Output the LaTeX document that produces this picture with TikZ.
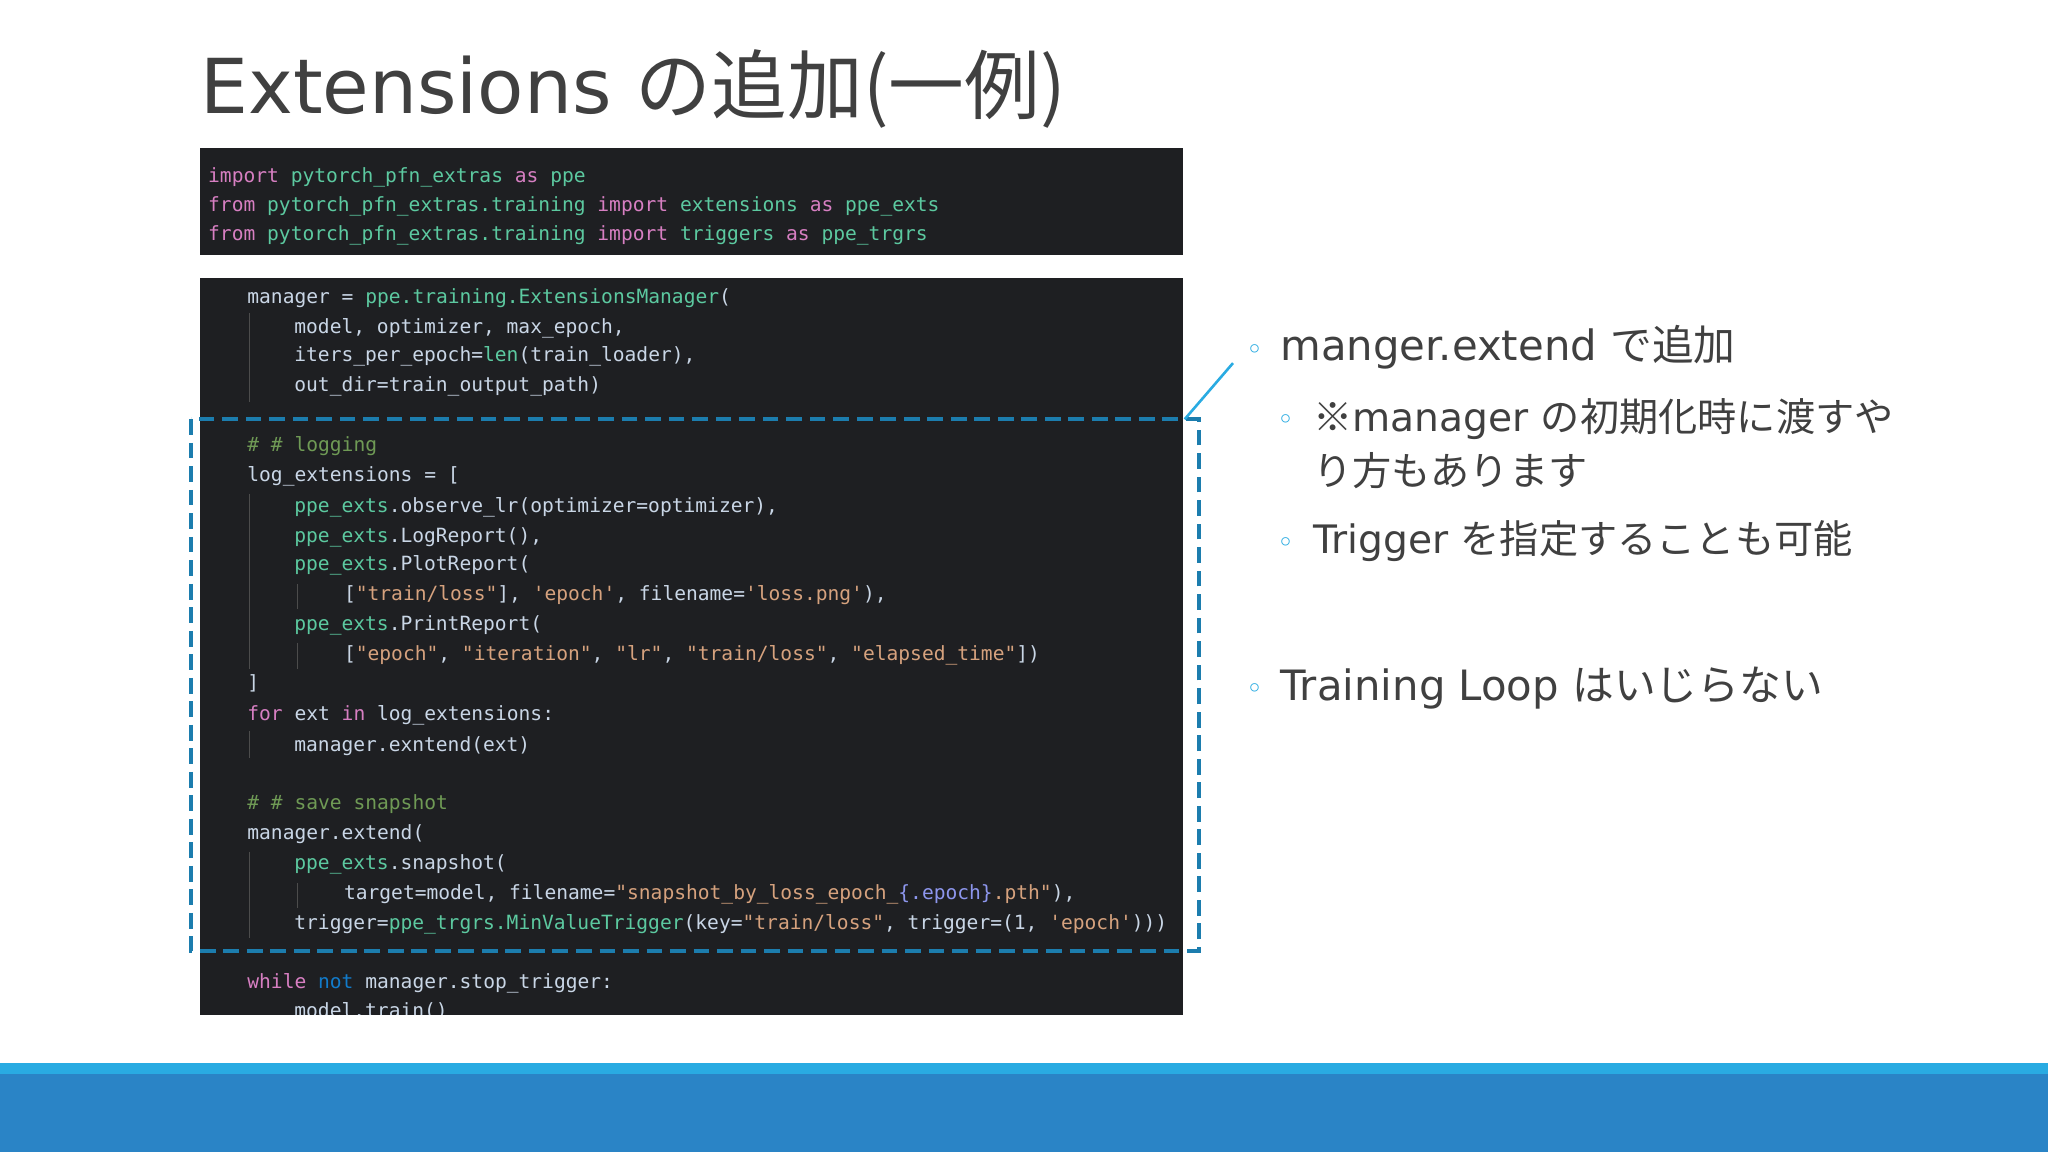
\documentclass[tikz,border=0pt]{standalone}
\usepackage{fontspec}
\setmainfont{DejaVu Sans}
\setmonofont{DejaVu Sans Mono}
\newfontfamily\jp{Noto Sans CJK JP}
\definecolor{txt}{HTML}{404040}
\definecolor{codebg}{HTML}{1E1F22}
\definecolor{ckw}{HTML}{D77FC2}
\definecolor{cmd}{HTML}{5CC9A0}
\definecolor{cst}{HTML}{D6A27E}
\definecolor{ccm}{HTML}{6F9A55}
\definecolor{cdef}{HTML}{C9D6E6}
\definecolor{hlblue}{HTML}{1C7DAE}
\definecolor{lblue}{HTML}{29ABE2}
\definecolor{dblue}{HTML}{2A84C6}
\newcommand\kw[1]{\textcolor{ckw}{#1}}
\newcommand\md[1]{\textcolor{cmd}{#1}}
\newcommand\stx[1]{\textcolor{cst}{#1}}
\newcommand\cmx[1]{\textcolor{ccm}{#1}}
\begin{document}
\begin{tikzpicture}[x=0.5pt,y=-0.5pt,
  code/.style={anchor=base west,inner sep=0,font=\ttfamily\fontsize{7.5}{9}\selectfont,text=cdef},
  bul/.style={anchor=base west,inner sep=0,text=txt},
  dot/.style={anchor=base west,inner sep=0,text=lblue,font=\fontsize{11}{13}\selectfont},
  guide/.style={draw=gray!60!black,line width=0.4pt}]
\useasboundingbox (0,0) rectangle (1568,882);
\fill[white] (0,0) rectangle (1568,882);
% title
\node[bul,font=\fontsize{29}{34}\selectfont] (title) at (153,87) {Extensions {\jp の追加(一例)}};
% code box 1
\fill[codebg] (153,113) rectangle (906,195);
\node[code] (a1) at (159,140) {\kw{import} \md{pytorch\_pfn\_extras} \kw{as} \md{ppe}};
\node[code] (a2) at (159,162) {\kw{from} \md{pytorch\_pfn\_extras.training} \kw{import} \md{extensions} \kw{as} \md{ppe\_exts}};
\node[code] (a3) at (159,184) {\kw{from} \md{pytorch\_pfn\_extras.training} \kw{import} \md{triggers} \kw{as} \md{ppe\_trgrs}};
% code box 2
\fill[codebg] (153,213) rectangle (906,777);
\begin{scope}
\clip (153,213) rectangle (906,777);
\draw[guide] (191,240) -- (191,308);
\draw[guide] (191,378) -- (191,512);
\draw[guide] (228,447) -- (228,466);
\draw[guide] (228,492) -- (228,512);
\draw[guide] (191,560) -- (191,580);
\draw[guide] (191,652) -- (191,718);
\draw[guide] (228,676) -- (228,695);
\node[code] (b1) at (189,232) {manager = \md{ppe.training.ExtensionsManager}(};
\node[code] (b2) at (225,255) {model, optimizer, max\_epoch,};
\node[code] (b3) at (225,277) {iters\_per\_epoch=\md{len}(train\_loader),};
\node[code] (b4) at (225,300) {out\_dir=train\_output\_path)};
\node[code] (b5) at (189,346) {\cmx{\# \# logging}};
\node[code] (b6) at (189,369) {log\_extensions = [};
\node[code] (b7) at (225,392) {\md{ppe\_exts}.observe\_lr(optimizer=optimizer),};
\node[code] (b8) at (225,415) {\md{ppe\_exts}.LogReport(),};
\node[code] (b9) at (225,437) {\md{ppe\_exts}.PlotReport(};
\node[code] (b10) at (263,460) {[\stx{"train/loss"}], \stx{'epoch'}, filename=\stx{'loss.png'}),};
\node[code] (b11) at (225,483) {\md{ppe\_exts}.PrintReport(};
\node[code] (b12) at (263,506) {[\stx{"epoch"}, \stx{"iteration"}, \stx{"lr"}, \stx{"train/loss"}, \stx{"elapsed\_time"}])};
\node[code] (b13) at (189,528) {]};
\node[code] (b14) at (189,552) {\kw{for} ext \kw{in} log\_extensions:};
\node[code] (b15) at (225,575) {manager.exntend(ext)};
\node[code] (b16) at (189,620) {\cmx{\# \# save snapshot}};
\node[code] (b17) at (189,643) {manager.extend(};
\node[code] (b18) at (225,666) {\md{ppe\_exts}.snapshot(};
\node[code] (b19) at (263,689) {target=model, filename=\stx{"snapshot\_by\_loss\_epoch\_}\textcolor{cdef!70!blue}{\{.epoch\}}\stx{.pth"}),};
\node[code] (b20) at (225,712) {trigger=\md{ppe\_trgrs.MinValueTrigger}(key=\stx{"train/loss"}, trigger=(1, \stx{'epoch'})))};
\node[code] (b21) at (189,757) {\kw{while} \textcolor{cyan!60!blue}{not} manager.stop\_trigger:};
\node[code] (b22) at (225,779) {model.train()};
\end{scope}
% dashed highlight
\draw[hlblue,line width=1.6pt,dash pattern=on 6pt off 3pt] (146,321) rectangle (918,728);
\coordinate (hl) at (907,321);
\coordinate (ct) at (944,278);
\draw[lblue,line width=1pt] (hl) -- (ct);
% bullets
\node[dot] (d1) at (954,275) {◦};
\node[bul,font=\fontsize{16}{20}\selectfont] (t1) at (980,276) {manger.extend {\jp で追加}};
\node[dot] (d2) at (978,329) {◦};
\node[bul,font=\fontsize{15}{20}\selectfont] (t2) at (1005,330) {{\jp ※}manager {\jp の初期化時に渡すや}};
\node[bul,font=\fontsize{15}{20}\selectfont] (t3) at (1005,372) {\jp り方もあります};
\node[dot] (d3) at (978,423) {◦};
\node[bul,font=\fontsize{15}{20}\selectfont] (t4) at (1005,424) {Trigger {\jp を指定することも可能}};
\node[dot] (d4) at (954,535) {◦};
\node[bul,font=\fontsize{16}{20}\selectfont] (t5) at (980,536) {Training Loop {\jp はいじらない}};
% bottom bars
\fill[lblue] (0,814) rectangle (1568,822);
\fill[dblue] (0,822) rectangle (1568,882);
\end{tikzpicture}
\end{document}
